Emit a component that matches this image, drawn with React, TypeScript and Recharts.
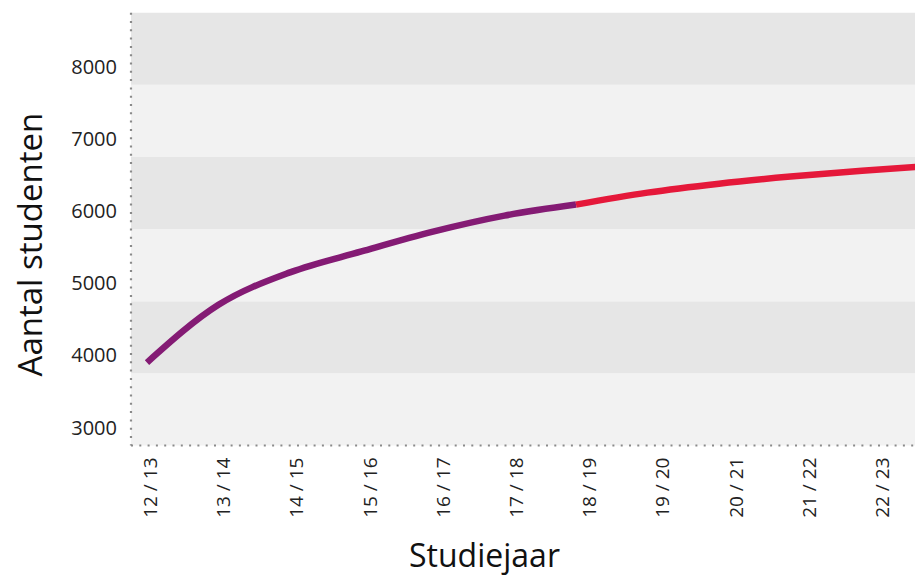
import React from "react";
import {
  LineChart,
  Line,
  XAxis,
  YAxis,
  ReferenceArea,
} from "recharts";

// Academic years shown on the x axis (index = position)
const categories = [
  "12 / 13",
  "13 / 14",
  "14 / 15",
  "15 / 16",
  "16 / 17",
  "17 / 18",
  "18 / 19",
  "19 / 20",
  "20 / 21",
  "21 / 22",
  "22 / 23",
];

// Realised numbers, 12/13 .. 18/19
const historic = [3900, 4700, 5150, 5440, 5715, 5937, 6090];
// Forecast, 18/19 .. 23/24 (last point runs off the right edge)
const forecast = [6090, 6256, 6380, 6478, 6560, 6630];
const forecastStart = 6;

const yTicks = [3000, 4000, 5000, 6000, 7000, 8000];
const yDomain = [2750, 8750];
// horizontal background bands [from, to, shade]
const bands: [number, number, string][] = [
  [2750, 3750, "light"],
  [3750, 4750, "dark"],
  [4750, 5750, "light"],
  [5750, 6750, "dark"],
  [6750, 7750, "light"],
  [7750, 8750, "dark"],
];

const PURPLE = "#841b74";
const RED = "#e5183a";
const FONT = "'Open Sans', 'Noto Sans', sans-serif";

const rows = Array.from({ length: forecastStart + forecast.length }, (_, i) => ({
  i,
  hist: i < historic.length ? historic[i] : null,
  prog: i >= forecastStart ? forecast[i - forecastStart] : null,
}));

const dotted = {
  stroke: "#8a8a8a",
  strokeWidth: 2.2,
  strokeDasharray: "2 6.3",
};

function XTick(props: any) {
  const { x, y, payload } = props;
  const ty = y + 12;
  return (
    <text
      x={x}
      y={ty}
      transform={`rotate(-90, ${x}, ${ty})`}
      textAnchor="end"
      dominantBaseline="central"
      fill="#222"
      fontSize={19}
      fontFamily={FONT}
    >
      {categories[payload.value]}
    </text>
  );
}

export default function App() {
  return (
    <div style={{ position: "absolute", left: 0, top: 0, background: "#fff" }}>
      <LineChart
        width={915}
        height={577}
        data={rows}
        margin={{ top: 12.7, right: 0, bottom: 0, left: 0 }}
      >
        {/* data axis: points sit a bit tighter than the printed labels */}
        <XAxis
          dataKey="i"
          type="number"
          domain={[-16 / 71.5, 768 / 71.5]}
          allowDataOverflow
          height={0}
          hide
        />
        <XAxis
          xAxisId="lab"
          dataKey="i"
          type="number"
          domain={[-19 / 73.2, 765 / 73.2]}
          allowDataOverflow
          ticks={categories.map((_, i) => i)}
          interval={0}
          height={131.5}
          tick={<XTick />}
          tickLine={false}
          tickSize={0}
          tickMargin={0}
          axisLine={dotted}
          label={{
            content: ({ viewBox }: any) => (
              <text
                x={484.5}
                y={viewBox.y + 121.5}
                textAnchor="middle"
                fill="#111"
                fontSize={32}
                fontFamily={FONT}
              >
                Studiejaar
              </text>
            ),
          }}
        />
        <YAxis
          type="number"
          domain={yDomain}
          ticks={yTicks}
          width={131}
          tickLine={false}
          tickSize={0}
          tickMargin={14}
          axisLine={dotted}
          tick={{ fill: "#222", fontSize: 20, fontFamily: FONT }}
          label={{
            content: ({ viewBox }: any) => {
              const cx = 42;
              const cy = viewBox.y + viewBox.height / 2 + 15.5;
              return (
                <text
                  x={cx}
                  y={cy}
                  transform={`rotate(-90, ${cx}, ${cy})`}
                  textAnchor="middle"
                  fill="#111"
                  fontSize={33}
                  fontFamily={FONT}
                >
                  Aantal studenten
                </text>
              );
            },
          }}
        />
        {bands.map(([y1, y2, shade], k) => (
          <ReferenceArea
            key={k}
            y1={y1}
            y2={y2}
            fill={shade === "dark" ? "#e6e6e6" : "#f2f2f2"}
            fillOpacity={1}
            stroke="none"
          />
        ))}
        <Line
          type="monotone"
          dataKey="hist"
          stroke={PURPLE}
          strokeWidth={6.5}
          dot={false}
          activeDot={false}
          connectNulls={false}
          isAnimationActive={false}
        />
        <Line
          type="monotone"
          dataKey="prog"
          stroke={RED}
          strokeWidth={6.5}
          dot={false}
          activeDot={false}
          connectNulls={false}
          isAnimationActive={false}
        />
      </LineChart>
    </div>
  );
}
